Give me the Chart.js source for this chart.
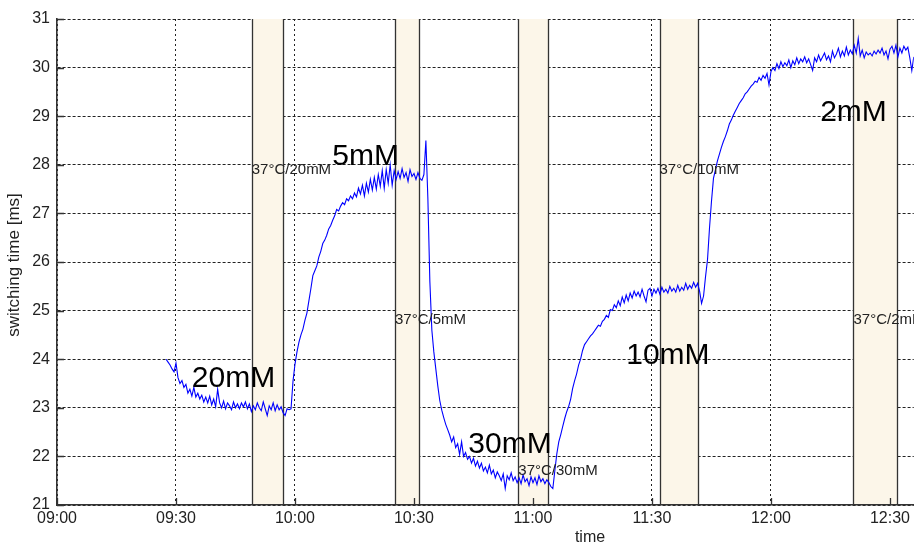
<!DOCTYPE html>
<html>
<head>
<meta charset="utf-8">
<title>switching time</title>
<script src="https://cdn.jsdelivr.net/npm/chart.js@4.4.1/dist/chart.umd.min.js"></script>
<style>
  html, body { margin: 0; padding: 0; background: #fff; }
  #chart { display: block; }
</style>
</head>
<body>
<canvas id="chart" width="914" height="545"></canvas>
<script>
// time axis is minutes after 09:00
const xTickLabels = ['09:00', '09:30', '10:00', '10:30', '11:00', '11:30', '12:00', '12:30'];
const yTicks = [21, 22, 23, 24, 25, 26, 27, 28, 29, 30, 31];

// measurement, one sample every half minute starting 09:27:30
const sampleStartMin = 27.5;
const sampleStepMin = 0.5;
const switchingMs = [
    24.00, 23.94, 23.88, 23.80, 23.74,
    23.92, 23.62, 23.50, 23.56, 23.42, 23.48, 23.30, 23.38, 23.24, 23.42, // 09:30
    23.22, 23.30, 23.18, 23.26, 23.12, 23.22, 23.10, 23.24, 23.06, 23.18, // 09:35
    23.02, 23.38, 23.10, 23.00, 23.14, 22.98, 23.10, 23.04, 22.96, 23.12, // 09:40
    23.00, 23.08, 22.98, 23.10, 23.02, 23.12, 22.98, 23.08, 22.92, 23.04, // 09:45
    22.96, 23.10, 23.00, 22.94, 23.12, 22.98, 22.84, 23.04, 22.96, 23.10, // 09:50
    22.94, 23.06, 22.96, 23.02, 22.90, 22.84, 22.98, 22.96, 22.98, 23.55, // 09:55
    23.90, 24.15, 24.35, 24.50, 24.62, 24.80, 24.95, 25.20, 25.45, 25.72, // 10:00
    25.82, 25.92, 26.10, 26.22, 26.38, 26.45, 26.55, 26.68, 26.75, 26.86, // 10:05
    26.95, 27.08, 27.05, 27.15, 27.22, 27.18, 27.30, 27.26, 27.36, 27.30, // 10:10
    27.42, 27.34, 27.52, 27.40, 27.58, 27.36, 27.62, 27.44, 27.70, 27.48, // 10:15
    27.74, 27.50, 27.80, 27.56, 27.88, 27.52, 27.90, 27.62, 28.00, 27.58, // 10:20
    27.88, 27.70, 27.86, 27.72, 27.92, 27.74, 27.84, 27.66, 27.90, 27.76, // 10:25
    27.82, 27.70, 27.84, 27.72, 27.68, 27.80, 28.50, 27.30, 25.60, 24.60, // 10:30
    24.15, 23.80, 23.45, 23.15, 22.95, 22.80, 22.66, 22.55, 22.44, 22.30, // 10:35
    22.40, 22.18, 22.26, 22.04, 22.30, 22.00, 22.08, 21.94, 22.00, 21.86, // 10:40
    21.96, 21.80, 21.90, 21.76, 21.86, 21.70, 21.78, 21.66, 21.82, 21.64, // 10:45
    21.72, 21.56, 21.68, 21.60, 21.50, 21.64, 21.34, 21.60, 21.52, 21.66, // 10:50
    21.50, 21.58, 21.46, 21.56, 21.44, 21.62, 21.48, 21.54, 21.40, 21.58, // 10:55
    21.46, 21.56, 21.42, 21.60, 21.48, 21.54, 21.44, 21.52, 21.46, 21.38, // 11:00
    21.34, 21.70, 22.05, 22.30, 22.45, 22.62, 22.78, 22.92, 23.03, 23.18, // 11:05
    23.40, 23.56, 23.70, 23.88, 24.00, 24.18, 24.30, 24.36, 24.42, 24.48, // 11:10
    24.52, 24.58, 24.64, 24.70, 24.68, 24.78, 24.82, 24.90, 24.86, 25.02, // 11:15
    25.00, 25.12, 25.06, 25.20, 25.10, 25.28, 25.16, 25.32, 25.20, 25.36, // 11:20
    25.26, 25.40, 25.30, 25.38, 25.28, 25.44, 25.30, 25.18, 25.42, 25.46, // 11:25
    25.30, 25.44, 25.36, 25.46, 25.34, 25.48, 25.38, 25.44, 25.36, 25.50, // 11:30
    25.40, 25.46, 25.38, 25.52, 25.40, 25.48, 25.42, 25.56, 25.44, 25.52, // 11:35
    25.46, 25.58, 25.48, 25.56, 25.40, 25.15, 25.30, 25.70, 26.05, 26.70, // 11:40
    27.25, 27.72, 27.90, 28.08, 28.22, 28.36, 28.48, 28.58, 28.70, 28.84, // 11:45
    28.92, 29.02, 29.10, 29.18, 29.26, 29.32, 29.38, 29.46, 29.50, 29.56, // 11:50
    29.62, 29.66, 29.72, 29.70, 29.80, 29.74, 29.84, 29.78, 29.88, 29.64, // 11:55
    29.92, 30.00, 29.94, 30.08, 29.98, 30.12, 30.02, 30.10, 30.04, 30.16, // 12:00
    30.00, 30.14, 30.06, 30.20, 30.08, 30.18, 30.12, 30.22, 30.10, 30.18, // 12:05
    30.06, 29.94, 30.20, 30.12, 30.26, 30.14, 30.22, 30.30, 30.16, 30.24, // 12:10
    30.12, 30.34, 30.20, 30.28, 30.40, 30.22, 30.34, 30.24, 30.42, 30.26, // 12:15
    30.36, 30.28, 30.46, 30.30, 30.60, 30.24, 30.36, 30.20, 30.32, 30.26, // 12:20
    30.30, 30.24, 30.34, 30.28, 30.36, 30.30, 30.40, 30.26, 30.34, 30.18, // 12:25
    30.38, 30.44, 30.30, 30.46, 30.22, 30.40, 30.30, 30.44, 30.36, 30.42, // 12:30
    30.20, 29.94, 30.22                                                   // 12:35
];

// 37°C incubation periods
const bandStartMin = [49.1, 85.2, 116.3, 151.9, 200.8];
const bandEndMin = [57.1, 91.3, 123.9, 161.6, 211.8];
const bandLabels = ['37°C/20mM', '37°C/5mM', '37°C/30mM', '37°C/10mM', '37°C/2mM'];
const bandLabelMs = [27.9, 24.8, 21.7, 27.9, 24.8];

// concentration labels
const concLabels = ['20mM', '5mM', '30mM', '10mM', '2mM'];
const concLabelMin = [34.0, 69.4, 103.7, 143.5, 192.4];
const concLabelMs = [23.6, 28.17, 22.25, 24.07, 29.07];

const FONT = '"Liberation Sans", Arial, sans-serif';

window.switchingChart = {
    chart: null,

    overlay: {
        id: 'overlay',
        beforeDatasetsDraw: function (chart) {
            const { ctx, chartArea: a, scales: { x, y } } = chart;
            ctx.save();
            for (let i = 0; i < bandStartMin.length; i++) {
                const x0 = Math.round(x.getPixelForValue(bandStartMin[i])) + 0.5;
                const x1 = Math.round(x.getPixelForValue(bandEndMin[i])) + 0.5;
                ctx.fillStyle = '#fcf6e9';
                ctx.fillRect(x0, a.top, x1 - x0, a.bottom - a.top - 1);
                ctx.strokeStyle = '#333';
                ctx.lineWidth = 1.3;
                ctx.beginPath();
                ctx.moveTo(x0, a.top);
                ctx.lineTo(x0, a.bottom);
                ctx.moveTo(x1, a.top);
                ctx.lineTo(x1, a.bottom);
                ctx.stroke();
            }
            // inward tick marks
            ctx.strokeStyle = '#333';
            ctx.lineWidth = 1.3;
            ctx.beginPath();
            x.ticks.forEach(function (t) {
                const px = Math.round(x.getPixelForValue(t.value)) + 0.5;
                ctx.moveTo(px, a.bottom);
                ctx.lineTo(px, a.bottom - 7);
            });
            y.ticks.forEach(function (t) {
                const py = Math.round(y.getPixelForValue(t.value)) + 0.5;
                ctx.moveTo(a.left, py);
                ctx.lineTo(a.left + 7, py);
            });
            ctx.stroke();
            ctx.restore();
        },
        afterDatasetsDraw: function (chart) {
            const { ctx, scales: { x, y } } = chart;
            ctx.save();
            ctx.textAlign = 'left';
            ctx.textBaseline = 'middle';
            ctx.fillStyle = '#222';
            ctx.font = '15px ' + FONT;
            for (let i = 0; i < bandLabels.length; i++) {
                ctx.fillText(bandLabels[i], x.getPixelForValue(bandStartMin[i]), y.getPixelForValue(bandLabelMs[i]));
            }
            ctx.fillStyle = '#000';
            ctx.font = '30px ' + FONT;
            for (let i = 0; i < concLabels.length; i++) {
                ctx.fillText(concLabels[i], x.getPixelForValue(concLabelMin[i]), y.getPixelForValue(concLabelMs[i]));
            }
            // axis titles
            ctx.fillStyle = '#222';
            ctx.font = '16px ' + FONT;
            ctx.textAlign = 'center';
            ctx.fillText('time', 590, 538);
            ctx.font = '17px ' + FONT;
            ctx.translate(14, 265);
            ctx.rotate(-Math.PI / 2);
            ctx.fillText('switching time [ms]', 0, 0);
            ctx.restore();
        }
    },

    init: function (canvasId) {
        const ctx = document.getElementById(canvasId).getContext('2d');

        if (this.chart) {
            this.chart.destroy();
        }

        const points = switchingMs.map(function (v, i) {
            return { x: sampleStartMin + i * sampleStepMin, y: v };
        });

        this.chart = new Chart(ctx, {
            type: 'line',
            data: {
                datasets: [{
                    data: points,
                    borderColor: '#0000ff',
                    borderWidth: 1.1,
                    pointRadius: 0,
                    tension: 0,
                    fill: false
                }]
            },
            options: {
                responsive: false,
                animation: false,
                events: [],
                layout: { padding: { top: 19, left: 0, right: 0, bottom: 0 } },
                plugins: {
                    legend: { display: false },
                    tooltip: { enabled: false }
                },
                scales: {
                    x: {
                        type: 'linear',
                        min: 0,
                        max: 216,
                        afterFit: function (s) { s.height = 40; },
                        afterBuildTicks: function (s) {
                            s.ticks = xTickLabels.map(function (lbl, i) { return { value: i * 30 }; });
                        },
                        ticks: {
                            autoSkip: false,
                            maxRotation: 0,
                            padding: 4,
                            color: '#222',
                            font: { family: FONT, size: 16 },
                            callback: function (v) { return xTickLabels[Math.round(v / 30)]; }
                        },
                        grid: { color: '#222', lineWidth: 1, drawTicks: false },
                        border: { display: true, color: '#333', width: 1.6, dash: [2, 3] }
                    },
                    y: {
                        min: 21,
                        max: 31,
                        afterFit: function (s) { s.width = 57; },
                        afterBuildTicks: function (s) {
                            s.ticks = yTicks.map(function (v) { return { value: v }; });
                        },
                        ticks: {
                            padding: 7,
                            color: '#222',
                            font: { family: FONT, size: 16 }
                        },
                        grid: { color: '#222', lineWidth: 1, drawTicks: false },
                        border: { display: true, color: '#333', width: 1.6, dash: [3, 2] }
                    }
                }
            },
            plugins: [this.overlay]
        });
    }
};

window.switchingChart.init('chart');
</script>
</body>
</html>
